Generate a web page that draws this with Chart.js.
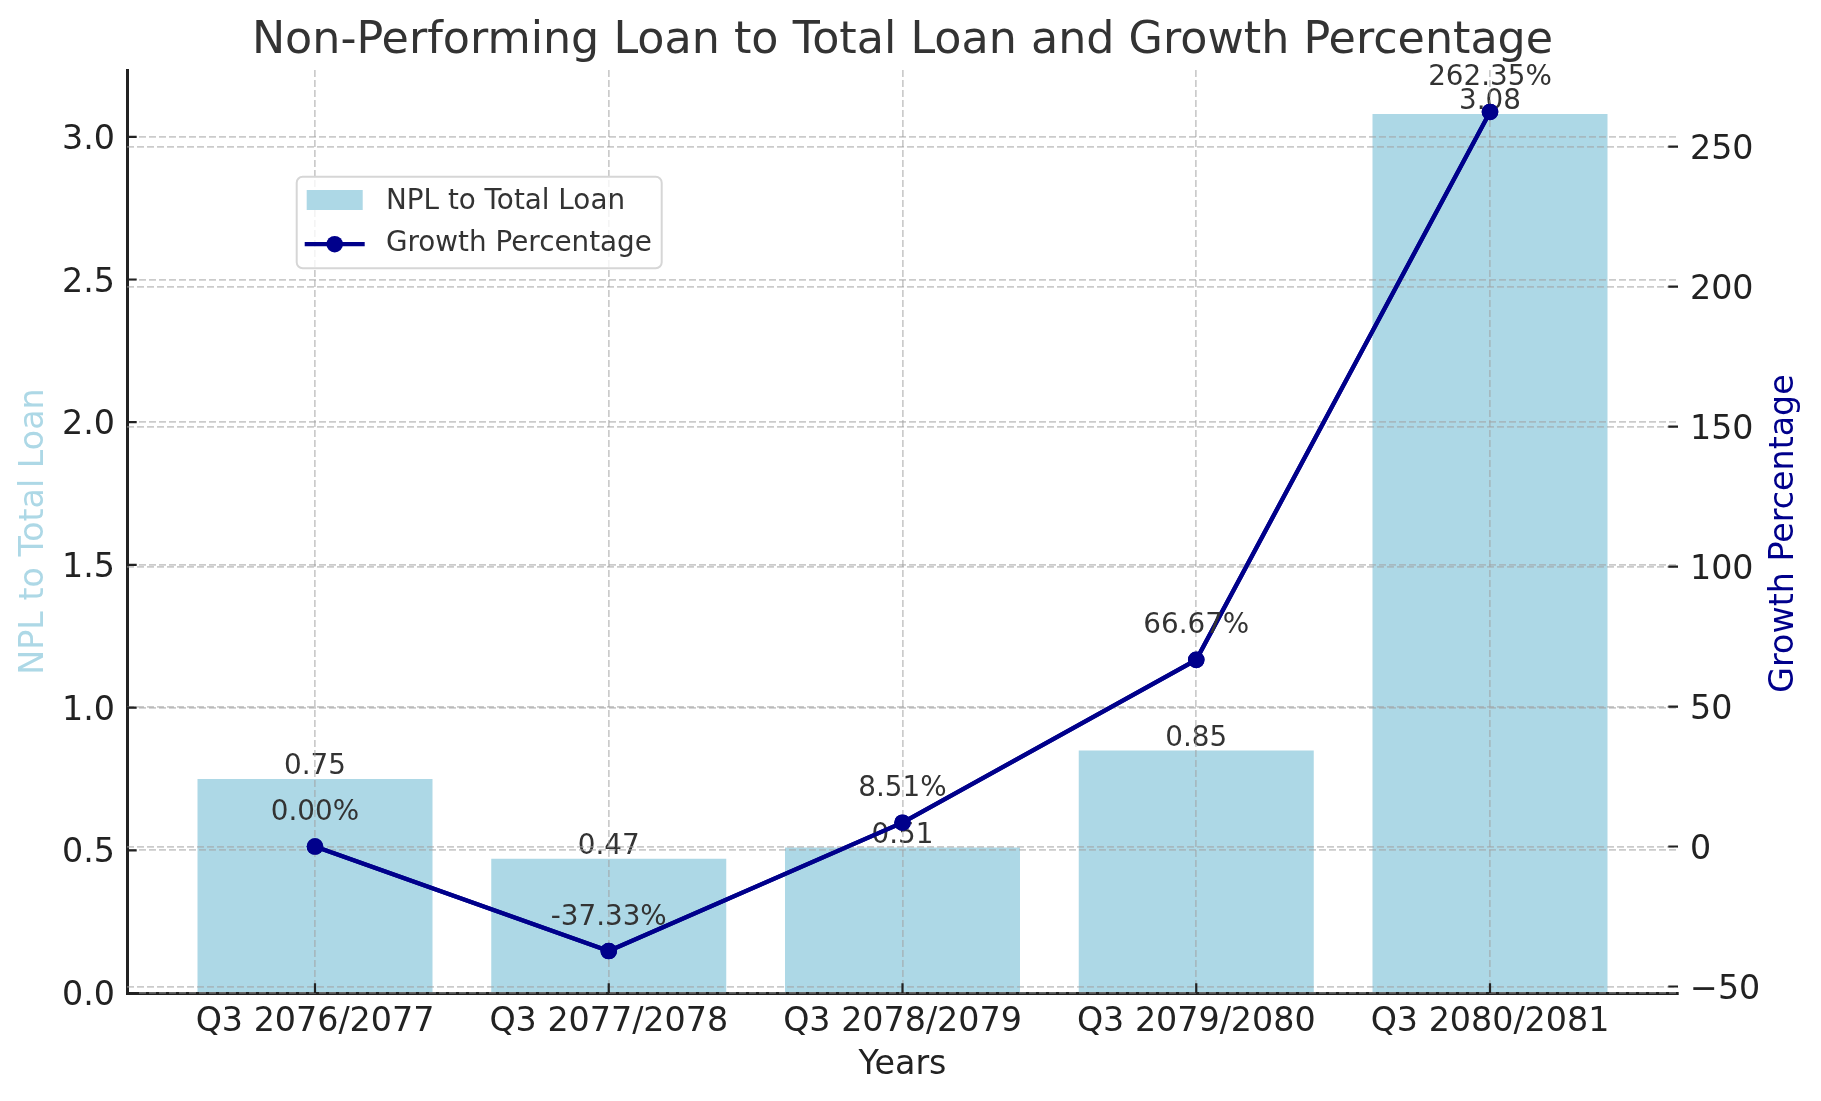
<!DOCTYPE html>
<html>
<head>
<meta charset="utf-8">
<title>Non-Performing Loan to Total Loan and Growth Percentage</title>
<script src="https://cdn.jsdelivr.net/npm/chart.js@4.4.1/dist/chart.umd.min.js"></script>
<style>
  html, body { margin: 0; padding: 0; background: #fff; }
  #chart { display: block; }
</style>
</head>
<body>
<canvas id="chart" width="1821" height="1101"></canvas>
<script>
// data
const categories = ['Q3 2076/2077', 'Q3 2077/2078', 'Q3 2078/2079', 'Q3 2079/2080', 'Q3 2080/2081'];
const nplValues = [0.75, 0.47, 0.51, 0.85, 3.08];
const growthValues = [0.00, -37.33, 8.51, 66.67, 262.35];
const nplTicks = [0, 0.5, 1.0, 1.5, 2.0, 2.5, 3.0];
const growthTicks = [-50, 0, 50, 100, 150, 200, 250];

const FONT = 'DejaVu Sans';
const GRID = 'rgba(160,160,160,0.55)';
const INK = '#222222';
const TEXT = '#333333';

// axis ranges with 5% margins, like the original plot
const nplMax = Math.max(...nplValues) * 1.05;
const gMin = Math.min(...growthValues), gMax = Math.max(...growthValues);
const gPad = (gMax - gMin) * 0.05;
const xPad = (categories.length - 1 + 0.8) * 0.05;

Chart.defaults.font.family = FONT;

// value labels on top of the bars (drawn under the grid, as in the original)
const barLabels = {
    id: 'barLabels',
    afterDatasetsDraw(chart) {
        const ctx = chart.ctx;
        const meta = chart.getDatasetMeta(0);
        ctx.save();
        ctx.font = '27.8px "' + FONT + '"';
        ctx.fillStyle = TEXT;
        ctx.textAlign = 'center';
        ctx.textBaseline = 'bottom';
        meta.data.forEach((bar, i) => {
            ctx.fillText(nplValues[i].toFixed(2), bar.x, bar.y + 2);
        });
        ctx.restore();
    }
};

const overlay = {
    id: 'overlay',
    afterDraw(chart) {
        const ctx = chart.ctx;
        const a = chart.chartArea;
        const sx = chart.scales.x, sy = chart.scales.y, sy1 = chart.scales.y1;

        // growth line sits above the grid
        chart.getDatasetMeta(1).controller.draw();

        // inward tick marks
        ctx.save();
        ctx.strokeStyle = INK;
        ctx.lineWidth = 2.2;
        ctx.beginPath();
        sx.ticks.forEach(t => {
            const x = sx.getPixelForValue(t.value);
            ctx.moveTo(x, a.bottom);
            ctx.lineTo(x, a.bottom - 9.7);
        });
        sy.ticks.forEach(t => {
            const y = sy.getPixelForValue(t.value);
            ctx.moveTo(a.left, y);
            ctx.lineTo(a.left + 9.7, y);
        });
        sy1.ticks.forEach(t => {
            const y = sy1.getPixelForValue(t.value);
            ctx.moveTo(a.right - 9.7, y);
            ctx.lineTo(a.right, y);
        });
        ctx.stroke();

        // growth labels
        const meta = chart.getDatasetMeta(1);
        ctx.font = '27.8px "' + FONT + '"';
        ctx.fillStyle = TEXT;
        ctx.textAlign = 'center';
        ctx.textBaseline = 'alphabetic';
        meta.data.forEach((pt, i) => {
            ctx.fillText(growthValues[i].toFixed(2) + '%', pt.x, pt.y - 26.5);
        });

        // right axis title, reading bottom to top
        ctx.save();
        ctx.translate(1784, (a.top + a.bottom) / 2 + 2);
        ctx.rotate(-Math.PI / 2);
        ctx.font = '33.3px "' + FONT + '"';
        ctx.fillStyle = '#00008b';
        ctx.textAlign = 'center';
        ctx.textBaseline = 'middle';
        ctx.fillText('Growth Percentage', 0, 0);
        ctx.restore();

        // legend box
        const lx = a.left + 169.7, ly = a.top + 106.7, lw = 365, lh = 91.6;
        ctx.beginPath();
        ctx.roundRect(lx, ly, lw, lh, 6);
        ctx.fillStyle = 'rgba(255,255,255,0.8)';
        ctx.fill();
        ctx.strokeStyle = '#d6d6d6';
        ctx.lineWidth = 2;
        ctx.stroke();

        ctx.fillStyle = '#add8e6';
        ctx.fillRect(lx + 10, ly + 13.3, 56, 20);

        ctx.strokeStyle = '#00008b';
        ctx.lineWidth = 4.2;
        ctx.beginPath();
        ctx.moveTo(lx + 8, ly + 67.5);
        ctx.lineTo(lx + 68, ly + 67.5);
        ctx.stroke();
        ctx.fillStyle = '#00008b';
        ctx.beginPath();
        ctx.arc(lx + 38, ly + 67.5, 8.3, 0, Math.PI * 2);
        ctx.fill();

        ctx.font = '27.8px "' + FONT + '"';
        ctx.fillStyle = TEXT;
        ctx.textAlign = 'left';
        ctx.textBaseline = 'middle';
        ctx.fillText('NPL to Total Loan', lx + 89.3, ly + 25.5);
        ctx.fillText('Growth Percentage', lx + 89.3, ly + 67.5);
        ctx.restore();
    }
};

const gridOpts = { color: GRID, lineWidth: 1.7, drawTicks: false, z: 1, offset: false };

new Chart(document.getElementById('chart').getContext('2d'), {
    type: 'bar',
    data: {
        datasets: [
            {
                type: 'bar',
                label: 'NPL to Total Loan',
                data: categories.map((c, i) => ({ x: i, y: nplValues[i] })),
                backgroundColor: '#add8e6',
                categoryPercentage: 0.8,
                barPercentage: 1.0,
                xAxisID: 'x',
                yAxisID: 'y',
                order: 2
            },
            {
                type: 'line',
                label: 'Growth Percentage',
                data: categories.map((c, i) => ({ x: i, y: growthValues[i] })),
                borderColor: '#00008b',
                borderWidth: 4.2,
                pointRadius: 8.3,
                pointHoverRadius: 8.3,
                pointBackgroundColor: '#00008b',
                pointBorderWidth: 0,
                tension: 0,
                xAxisID: 'x',
                yAxisID: 'y1',
                order: 1
            }
        ]
    },
    options: {
        responsive: false,
        animation: false,
        events: [],
        layout: { padding: 0 },
        plugins: {
            legend: { display: false },
            tooltip: { enabled: false },
            title: {
                display: true,
                fullSize: false,
                text: 'Non-Performing Loan to Total Loan and Growth Percentage',
                color: TEXT,
                font: { size: 44.4, weight: 'normal' },
                padding: { top: 15, bottom: 1.72 }
            }
        },
        scales: {
            x: {
                type: 'linear',
                position: 'bottom',
                min: -0.4 - xPad,
                max: categories.length - 1 + 0.4 + xPad,
                offset: false,
                afterBuildTicks: s => { s.ticks = categories.map((c, i) => ({ value: i })); },
                afterFit: s => { s.height = 108; },
                ticks: {
                    callback: v => categories[v],
                    color: INK,
                    font: { size: 33.3 },
                    padding: 9.5,
                    maxRotation: 0,
                    autoSkip: false
                },
                grid: gridOpts,
                border: { display: true, color: INK, width: 3, dash: [7, 3], z: 1 },
                title: {
                    display: true,
                    text: 'Years',
                    color: INK,
                    font: { size: 33.3 },
                    padding: { top: 0, bottom: 15.5 }
                }
            },
            y: {
                position: 'left',
                min: 0,
                max: nplMax,
                afterBuildTicks: s => { s.ticks = nplTicks.map(v => ({ value: v })); },
                afterFit: s => { s.width = 127; },
                ticks: {
                    callback: v => v.toFixed(1),
                    color: INK,
                    font: { size: 33.3 },
                    padding: 12,
                    labelOffset: 3.5
                },
                grid: gridOpts,
                border: { display: true, color: INK, width: 3, dash: [7, 3], z: 1 },
                title: {
                    display: true,
                    text: 'NPL to Total Loan',
                    color: '#add8e6',
                    font: { size: 33.3 },
                    padding: { top: 14.5, bottom: 0 }
                }
            },
            y1: {
                position: 'right',
                min: gMin - gPad,
                max: gMax + gPad,
                afterBuildTicks: s => { s.ticks = growthTicks.map(v => ({ value: v })); },
                afterFit: s => { s.width = 143; },
                ticks: {
                    callback: v => String(v).replace('-', '\u2212'),
                    color: INK,
                    font: { size: 33.3 },
                    padding: 12,
                    labelOffset: 3.5
                },
                grid: gridOpts,
                border: { display: false, dash: [7, 3], z: 1 }
            }
        }
    },
    plugins: [barLabels, overlay]
});
</script>
</body>
</html>
